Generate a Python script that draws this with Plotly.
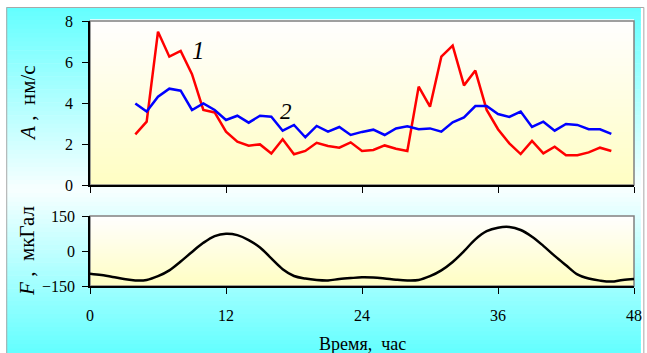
import plotly.graph_objects as go

# ---------------- data ----------------
hours_a = list(range(4, 47))
series1 = [2.47, 3.09, 7.48, 6.26, 6.54, 5.41, 3.66, 3.54, 2.60, 2.11, 1.92, 1.98, 1.54, 2.23, 1.50,
           1.66, 2.06, 1.90, 1.82, 2.08, 1.66, 1.71, 1.93, 1.77, 1.66, 4.80, 3.82, 6.26, 6.80, 4.86,
           5.58, 3.66, 2.72, 2.03, 1.51, 2.15, 1.54, 1.87, 1.45, 1.45, 1.59, 1.82, 1.66]
series2 = [3.98, 3.58, 4.31, 4.70, 4.60, 3.66, 3.98, 3.66, 3.17, 3.38, 3.04, 3.38, 3.33, 2.65, 2.93,
           2.33, 2.88, 2.60, 2.83, 2.44, 2.59, 2.70, 2.44, 2.76, 2.86, 2.72, 2.76, 2.60, 3.06, 3.30,
           3.85, 3.85, 3.46, 3.32, 3.58, 2.83, 3.09, 2.65, 2.98, 2.93, 2.72, 2.72, 2.49]
hours_f = list(range(0, 49))
force = [-97, -103, -111, -120, -126, -124, -108, -83, -45, -4, 35, 64, 74, 68, 47, 15, -32, -78,
         -107, -118, -124, -126, -120, -116, -113, -114, -118, -123, -126, -124, -108, -83, -47, -1,
         50, 85, 100, 103, 90, 61, 22, -21, -61, -100, -118, -127, -131, -124, -120]
x_ticks = [0, 12, 24, 36, 48]
a_ticks = [0, 2, 4, 6, 8]
f_ticks = [-150, 0, 150]

SERIF = "Liberation Serif"

fig = go.Figure()
fig.add_trace(go.Scatter(x=hours_a, y=series1, mode="lines", line=dict(color="#FF0000", width=2.5),
                         xaxis="x", yaxis="y", showlegend=False))
fig.add_trace(go.Scatter(x=hours_a, y=series2, mode="lines", line=dict(color="#0000FF", width=2.5),
                         xaxis="x", yaxis="y", showlegend=False))
fig.add_trace(go.Scatter(x=hours_f, y=force, mode="lines", line=dict(color="#000000", width=2.5, shape="spline"),
                         xaxis="x2", yaxis="y2", showlegend=False))

shapes = []
W, H = 647, 353
L, R, T, B = 90, 642, 21, 286
def px2paper_x(px):
    return (px - L) / (R - L)
def px2paper_y(py):
    return (B - py) / (B - T)

# outer background gradient (cyan -> white -> cyan)
top_px, bot_px, mid_px = 7, 353, 190
n = 80
for i in range(n):
    y0p = top_px + (bot_px - top_px) * i / n
    y1p = top_px + (bot_px - top_px) * (i + 1) / n + 0.6
    yc = (y0p + y1p) / 2
    if yc < mid_px:
        t = (yc - top_px) / (mid_px - top_px)
    else:
        t = (bot_px - yc) / (bot_px - mid_px)
    r = int(100 + (248 - 100) * t)
    shapes.append(dict(type="rect", xref="paper", yref="paper", layer="below",
                       x0=px2paper_x(5), x1=px2paper_x(W + 2), y0=px2paper_y(y1p), y1=px2paper_y(y0p),
                       fillcolor=f"rgb({r},255,255)", line=dict(width=0)))
shapes.append(dict(type="rect", xref="paper", yref="paper", layer="below",
                   x0=px2paper_x(5.5), x1=px2paper_x(W + 5), y0=px2paper_y(W), y1=px2paper_y(7.5),
                   fillcolor="rgba(0,0,0,0)", line=dict(color="#A8A8A8", width=1)))

# plot-area gradients (white -> pale yellow)
for yr in ["y", "y2"]:
    xr = "x" if yr == "y" else "x2"
    m = 40
    for i in range(m):
        t = (i + 0.5) / m
        b = int(255 - (255 - 195) * (1 - t))
        shapes.append(dict(type="rect", xref=f"{xr} domain", yref=f"{yr} domain", layer="below",
                           x0=0, x1=1, y0=i / m, y1=(i + 1) / m + 0.01,
                           fillcolor=f"rgb(255,254,{b})", line=dict(width=0)))
    shapes.append(dict(type="rect", xref=f"{xr} domain", yref=f"{yr} domain", layer="below",
                       x0=0, x1=1, y0=0, y1=1, fillcolor="rgba(0,0,0,0)",
                       line=dict(color="#808080", width=1.5)))

axis_common = dict(showgrid=False, zeroline=False, showline=True, linecolor="#000000", linewidth=1.5,
                   ticks="outside", ticklen=6, tickwidth=1.2, tickcolor="#000000",
                   ticklabeloverflow="allow",
                   tickfont=dict(family=SERIF, size=16, color="#000000"))

fig.update_layout(
    width=W, height=H,
    margin=dict(l=L, r=W - R, t=T, b=H - B),
    paper_bgcolor="#FFFFFF", plot_bgcolor="rgba(0,0,0,0)",
    shapes=shapes,
    xaxis=dict(domain=[0, 1], anchor="y", range=[0, 48], tickvals=x_ticks, showticklabels=False, **axis_common),
    yaxis=dict(domain=[px2paper_y(185), 1], anchor="x", range=[0, 8], tickvals=a_ticks,
               ticklabelstandoff=6, **axis_common),
    xaxis2=dict(domain=[0, 1], anchor="y2", range=[0, 48], tickvals=x_ticks, ticklabelstandoff=8,
                **axis_common),
    yaxis2=dict(domain=[0, px2paper_y(216)], anchor="x2", range=[-150, 150], tickvals=f_ticks,
                ticklabelstandoff=4, **axis_common),
    annotations=[
        dict(text="<i>A</i> ,  нм/с", xref="paper", yref="y domain", x=px2paper_x(27), y=0.5,
             xanchor="center", yanchor="middle",
             textangle=-90, showarrow=False, font=dict(family=SERIF, size=21, color="#000000")),
        dict(text="<i>F</i> ,  мкГал", xref="paper", yref="y2 domain", x=px2paper_x(26), y=0.5,
             xanchor="center", yanchor="middle",
             textangle=-90, showarrow=False, font=dict(family=SERIF, size=21, color="#000000")),
        dict(text="Время,  час", xref="x2", yref="paper", x=24, y=px2paper_y(344),
             xanchor="center", yanchor="middle",
             showarrow=False, font=dict(family=SERIF, size=18, color="#000000")),
        dict(text="<i>1</i>", xref="x", yref="y", x=9.57, y=6.54, showarrow=False,
             font=dict(family=SERIF, size=25, color="#000000")),
        dict(text="<i>2</i>", xref="x", yref="y", x=17.3, y=3.61, showarrow=False,
             font=dict(family=SERIF, size=23, color="#000000")),
    ],
)

fig.write_html("out.html")
